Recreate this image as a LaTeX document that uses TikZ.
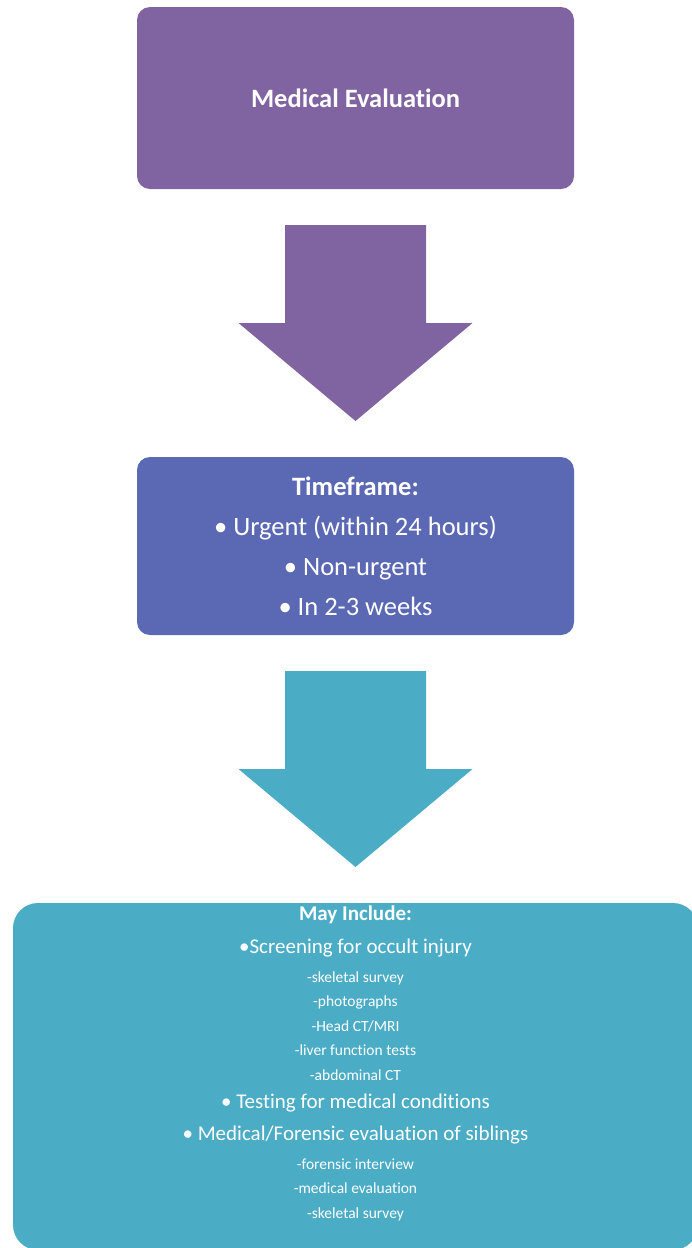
\documentclass[tikz,border=0pt]{standalone}
\usepackage{fontspec}
\setmainfont{Carlito}[Ligatures=NoCommon]
\usetikzlibrary{positioning,calc}
\definecolor{evalpurple}{RGB}{128,100,162}
\definecolor{timeblue}{RGB}{91,105,180}
\definecolor{includeaqua}{RGB}{75,172,198}
\newcommand{\bigitem}{\fontsize{21}{24.5}\selectfont}

\begin{document}
\begin{tikzpicture}[x=1pt, y=1pt, node distance=268pt,
    box/.style = {rounded corners=13pt, minimum width=437pt, text=white, align=center, inner sep=0pt, outer sep=0pt},
    big/.style = {font=\fontsize{26.5}{40}\selectfont}] 

    \clip (0,0) rectangle (692,-1248);

    \node[box, big, fill=evalpurple, minimum height=182pt] (evaluation) at (355.5,-98) {\textbf{Medical Evaluation}};
    \node[box, big, fill=timeblue, minimum height=178pt] (timeframe) [below=of evaluation] {\textbf{Timeframe:}\\ • Urgent (within 24 hours)\\ • Non-urgent\\ • In 2-3 weeks};
    \node[box, fill=includeaqua, rounded corners=25pt, minimum width=685pt, minimum height=347pt] (include) [below=of timeframe] {};
    \node[text=white, align=center, inner sep=0pt, anchor=north, font=\fontsize{15.5}{24.5}\selectfont] (includetext) at ($(include.north)+(0,-3)$)
        {\bigitem\textbf{May Include:}\\[8.5pt]
         \bigitem •Screening for occult injury\\[4pt]
         -skeletal survey\\ -photographs\\ -Head CT/MRI\\ -liver function tests\\ -abdominal CT\\[4pt]
         \bigitem • Testing for medical conditions\\[7.5pt]
         \bigitem • Medical/Forensic evaluation of siblings\\[4pt]
         -forensic interview\\ -medical evaluation\\ -skeletal survey};

    % block arrows between the boxes
    \fill[evalpurple] ($(evaluation.south)+(-70.5,-36)$) -- ++(141,0) -- ++(0,-98) -- ++(46.5,0) -- ($(timeframe.north)+(0,36)$) -- ++(-117,98) -- ++(46.5,0) -- cycle;
    \fill[includeaqua] ($(timeframe.south)+(-70.5,-36)$) -- ++(141,0) -- ++(0,-98) -- ++(46.5,0) -- ($(include.north)+(0,36)$) -- ++(-117,98) -- ++(46.5,0) -- cycle;

\end{tikzpicture}
\end{document}
